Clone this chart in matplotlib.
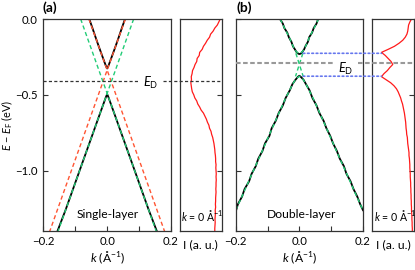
import matplotlib
matplotlib.use('Agg')
import matplotlib.pyplot as plt
import matplotlib.transforms as mtransforms
from matplotlib.patches import ConnectionPatch

plt.rcParams['font.family'] = ['Lato', 'DejaVu Sans']
plt.rcParams['mathtext.fontset'] = 'custom'
plt.rcParams['mathtext.rm'] = 'Lato'
plt.rcParams['mathtext.it'] = 'Lato:italic'
plt.rcParams['mathtext.bf'] = 'Lato:bold'

# ---------------- data ----------------
# Panel (a) single layer: measured bands (black)
k_a_up = [-0.056, -0.046, -0.036, -0.026, -0.016, -0.008, -0.003, 0.0, 0.003, 0.008, 0.016, 0.026, 0.036, 0.046, 0.056]
E_a_up = [0.0, -0.060, -0.122, -0.182, -0.240, -0.286, -0.314, -0.326, -0.314, -0.286, -0.240, -0.182, -0.122, -0.060, 0.0]
k_a_dn = [-0.156, -0.130, -0.100, -0.070, -0.045, -0.025, -0.012, -0.004, 0.0, 0.004, 0.012, 0.025, 0.045, 0.070, 0.100, 0.130, 0.156]
E_a_dn = [-1.400, -1.257, -1.080, -0.903, -0.756, -0.638, -0.562, -0.515, -0.495, -0.515, -0.562, -0.638, -0.756, -0.903, -1.080, -1.257, -1.400]
# Panel (a) linear cone fits (red = upper, green = lower)
red_k1, red_E1 = [-0.057, 0.180], [0.0, -1.40]
red_k2, red_E2 = [0.057, -0.180], [0.0, -1.40]
grn_k1, grn_E1 = [-0.083, 0.154], [0.0, -1.40]
grn_k2, grn_E2 = [0.083, -0.154], [0.0, -1.40]
ED_a = -0.408

# Panel (b) double layer: measured bands (black, noisy)
k_b_up = [-0.061, -0.052, -0.047, -0.038, -0.033, -0.025, -0.020, -0.014, -0.010, -0.004, 0.0,
          0.005, 0.010, 0.015, 0.019, 0.027, 0.031, 0.040, 0.045, 0.054, 0.059]
E_b_up = [0.0, -0.03, -0.06, -0.09, -0.12, -0.15, -0.18, -0.20, -0.215, -0.228, -0.231,
          -0.228, -0.215, -0.20, -0.18, -0.15, -0.12, -0.09, -0.06, -0.03, 0.0]
k_b_dn = [-0.200, -0.193, -0.180, -0.172, -0.158, -0.150, -0.137, -0.129, -0.116, -0.108, -0.094,
          -0.087, -0.074, -0.065, -0.052, -0.043, -0.030, -0.022, -0.012, -0.004, 0.0,
          0.004, 0.013, 0.021, 0.032, 0.041, 0.054, 0.063, 0.076, 0.085, 0.097, 0.106,
          0.118, 0.127, 0.140, 0.148, 0.161, 0.170, 0.182, 0.191, 0.200]
E_b_dn = [-1.27, -1.22, -1.17, -1.12, -1.07, -1.02, -0.97, -0.92, -0.87, -0.82, -0.77,
          -0.72, -0.67, -0.62, -0.57, -0.52, -0.47, -0.43, -0.40, -0.38, -0.374,
          -0.38, -0.40, -0.43, -0.47, -0.52, -0.57, -0.62, -0.67, -0.72, -0.77, -0.82,
          -0.87, -0.92, -0.97, -1.02, -1.07, -1.12, -1.17, -1.22, -1.26]
# Panel (b) model bands (green dashed)
gk_b_up = [-0.060, -0.050, -0.038, -0.030, -0.024, -0.016, -0.010, -0.005, 0.0, 0.005, 0.010, 0.016, 0.024, 0.030, 0.038, 0.050, 0.060]
gE_b_up = [0.0, -0.045, -0.095, -0.128, -0.161, -0.195, -0.214, -0.223, -0.227, -0.223, -0.214, -0.195, -0.161, -0.128, -0.095, -0.045, 0.0]
gk_b_dn = [-0.200, -0.175, -0.150, -0.125, -0.100, -0.080, -0.060, -0.045, -0.032, -0.020, -0.010, 0.0,
           0.010, 0.020, 0.032, 0.045, 0.060, 0.080, 0.100, 0.125, 0.150, 0.175, 0.200]
gE_b_dn = [-1.260, -1.145, -1.025, -0.910, -0.790, -0.695, -0.600, -0.530, -0.475, -0.425, -0.393, -0.377,
           -0.393, -0.425, -0.475, -0.530, -0.600, -0.695, -0.790, -0.910, -1.025, -1.145, -1.260]
gx_k1, gx_E1 = [-0.011, 0.012], [-0.226, -0.378]
gx_k2, gx_E2 = [0.011, -0.012], [-0.226, -0.378]
ED_b = -0.289
gap_edges_b = [-0.226, -0.377]

# EDCs at k = 0
edc_E = [0.00, -0.02, -0.04, -0.06, -0.08, -0.10, -0.12, -0.14, -0.16, -0.18, -0.20, -0.22, -0.24, -0.26,
         -0.28, -0.30, -0.32, -0.34, -0.36, -0.38, -0.40, -0.42, -0.44, -0.46, -0.48, -0.50, -0.52, -0.54,
         -0.56, -0.58, -0.60, -0.62, -0.64, -0.66, -0.68, -0.70, -0.72, -0.74, -0.76, -0.78, -0.80, -0.82,
         -0.84, -0.86, -0.88, -0.90, -0.92, -0.94, -0.96, -0.98, -1.00, -1.02, -1.04, -1.06, -1.08, -1.10,
         -1.12, -1.14, -1.16, -1.18, -1.20, -1.22, -1.24, -1.26, -1.28, -1.30, -1.32, -1.34, -1.36, -1.38, -1.40]
edc_a_I = [0.03, 0.065, 0.10, 0.16, 0.20, 0.26, 0.285, 0.34, 0.38, 0.43, 0.46, 0.52, 0.53, 0.58,
           0.59, 0.63, 0.655, 0.69, 0.70, 0.72, 0.715, 0.73, 0.72, 0.71, 0.695, 0.66, 0.635, 0.59,
           0.565, 0.52, 0.485, 0.43, 0.395, 0.36, 0.335, 0.30, 0.285, 0.25, 0.235, 0.21, 0.195, 0.18,
           0.17, 0.16, 0.155, 0.145, 0.14, 0.14, 0.13, 0.135, 0.13, 0.125, 0.13, 0.125, 0.13, 0.13,
           0.135, 0.13, 0.135, 0.14, 0.14, 0.145, 0.14, 0.15, 0.145, 0.15, 0.155, 0.15, 0.155, 0.16, 0.16]
edc_b_I = [0.06, 0.10, 0.13, 0.14, 0.15, 0.17, 0.21, 0.27, 0.36, 0.47, 0.62, 0.78, 0.69, 0.62,
           0.55, 0.51, 0.58, 0.64, 0.72, 0.78, 0.67, 0.56, 0.48, 0.42, 0.38, 0.35, 0.32, 0.30,
           0.275, 0.26, 0.245, 0.23, 0.22, 0.21, 0.20, 0.195, 0.19, 0.18, 0.175, 0.16, 0.155, 0.15,
           0.14, 0.13, 0.12, 0.12, 0.11, 0.105, 0.10, 0.10, 0.095, 0.09, 0.09, 0.085, 0.08, 0.08,
           0.075, 0.075, 0.07, 0.07, 0.065, 0.065, 0.06, 0.06, 0.055, 0.05, 0.05, 0.045, 0.045, 0.04, 0.04]

k_ticks = [-0.2, 0.0, 0.2]
k_minor = [-0.1, 0.1]
E_ticks = [0.0, -0.5, -1.0]
E_ticklabels = ['0.0', '\u22120.5', '\u22121.0']
k_ticklabels = ['\u22120.2', '0.0', '0.2']

# ---------------- figure ----------------
W, H = 415, 270
fig = plt.figure(figsize=(W / 100, H / 100), dpi=100)


def px_axes(l, t, r, b):
    return fig.add_axes([l / W, 1 - b / H, (r - l) / W, (b - t) / H])


ax_a = px_axes(43.3, 19, 171, 230.7)
edc_a = px_axes(179.5, 19, 221.5, 230.7)
ax_b = px_axes(235.7, 19, 363, 230.7)
edc_b = px_axes(372.3, 19, 414, 230.7)

SPINE = '#333333'
FS = 8.2
for ax in (ax_a, edc_a, ax_b, edc_b):
    ax.set_ylim(-1.395, 0.0)
    for s in ax.spines.values():
        s.set_color(SPINE)
        s.set_linewidth(0.9)
    ax.tick_params(direction='in', length=3.5, width=0.8, color=SPINE, labelsize=FS, pad=4)
    ax.tick_params(which='minor', direction='in', length=3.5, width=0.8, color=SPINE)

for ax in (ax_a, ax_b):
    ax.set_xlim(-0.2, 0.2)
    ax.set_xticks(k_ticks)
    ax.set_xticklabels(k_ticklabels)
    ax.set_xticks(k_minor, minor=True)
    ax.set_yticks(E_ticks)
    ax.set_xlabel(r'$k$ (Å$^{-1}$)', fontsize=FS + 0.5, labelpad=2)
ax_a.set_yticklabels(E_ticklabels)
ax_b.set_yticklabels([])
ax_a.set_ylabel(r'$E$ − $E_{\mathrm{F}}$ (eV)', fontsize=7.8)
ax_a.yaxis.set_label_coords(-0.225, 0.5)

for ax in (edc_a, edc_b):
    ax.set_xlim(1.0, 0.0)
    ax.set_xticks([])
    ax.yaxis.tick_right()
    ax.set_yticks([-0.5, -1.0])
    ax.set_yticklabels([])
    ax.set_xlabel('I (a. u.)', fontsize=FS + 0.5, labelpad=6)
    ax.text(0.04, 0.073, r'$k$ = 0 Å$^{-1}$', transform=ax.transAxes, fontsize=7.6,
            ha='left', va='center', clip_on=False)

RED_D = '#ff5533'
GRN_D = '#22cc77'
dash = (0, (3, 2))

# panel (a)
ax_a.plot(k_a_up, E_a_up, color='black', lw=1.3)
ax_a.plot(k_a_dn, E_a_dn, color='black', lw=1.3)
ax_a.plot(red_k1, red_E1, color=RED_D, lw=1.0, ls=dash)
ax_a.plot(red_k2, red_E2, color=RED_D, lw=1.0, ls=dash)
ax_a.plot(grn_k1, grn_E1, color=GRN_D, lw=1.0, ls=dash)
ax_a.plot(grn_k2, grn_E2, color=GRN_D, lw=1.0, ls=dash)
ax_a.text(0.003, -1.29, 'Single-layer', fontsize=FS + 0.5, ha='center', va='center')

# panel (b)
ax_b.plot(k_b_up, E_b_up, color='black', lw=1.3)
ax_b.plot(k_b_dn, E_b_dn, color='black', lw=1.3)
ax_b.plot(gk_b_up, gE_b_up, color=GRN_D, lw=1.0, ls=dash)
ax_b.plot(gk_b_dn, gE_b_dn, color=GRN_D, lw=1.0, ls=dash)
ax_b.plot(gx_k1, gx_E1, color=GRN_D, lw=1.0, ls=dash)
ax_b.plot(gx_k2, gx_E2, color=GRN_D, lw=1.0, ls=dash)
ax_b.text(0.007, -1.29, 'Double-layer', fontsize=FS + 0.5, ha='center', va='center')

# EDCs
edc_a.plot(edc_a_I, edc_E, color='#ff1a1a', lw=0.9)
edc_b.plot(edc_b_I, edc_E, color='#ff1a1a', lw=0.9)

# E_D lines (figure x, data y)
tr_a = mtransforms.blended_transform_factory(fig.transFigure, ax_a.transData)
for x0, x1 in ((43.3, 138), (163, 221.5)):
    fig.add_artist(plt.Line2D([x0 / W, x1 / W], [ED_a, ED_a], transform=tr_a,
                              color='#333333', lw=0.9, ls=(0, (2.5, 1.8))))
fig.text(151 / W, 1 - 83 / H, r'$E_{\mathrm{D}}$', fontsize=FS + 1, ha='center', va='center')

tr_b = mtransforms.blended_transform_factory(fig.transFigure, ax_b.transData)
for x0, x1 in ((235.7, 333), (358, 414)):
    fig.add_artist(plt.Line2D([x0 / W, x1 / W], [ED_b, ED_b], transform=tr_b,
                              color='#999999', lw=1.5, ls=(0, (2.2, 1.2))))
fig.text(346 / W, 1 - 68.5 / H, r'$E_{\mathrm{D}}$', fontsize=FS + 1, ha='center', va='center')

# blue dotted gap-edge connectors
for E_edge in gap_edges_b:
    idx = min(range(len(edc_E)), key=lambda i: abs(edc_E[i] - E_edge))
    con = ConnectionPatch(xyA=(0.012, E_edge), coordsA=ax_b.transData,
                          xyB=(edc_b_I[idx], E_edge), coordsB=edc_b.transData,
                          color='#6677ee', lw=1.2, linestyle=(0, (1.0, 1.6)))
    fig.add_artist(con)

fig.text(42 / W, 1 - 8 / H, '(a)', fontsize=10, fontweight='bold', ha='left', va='center')
fig.text(236 / W, 1 - 8 / H, '(b)', fontsize=10, fontweight='bold', ha='left', va='center')

fig.savefig('out.png', dpi=100)
